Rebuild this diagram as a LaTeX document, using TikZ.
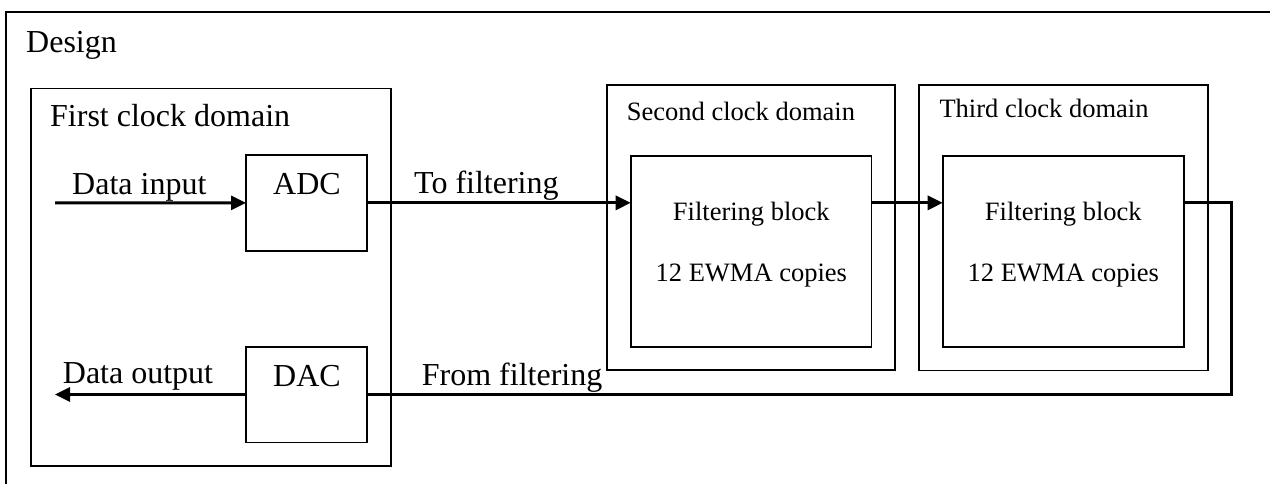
\documentclass[tikz,border=0pt]{standalone}
\usepackage{fontspec}
\setmainfont{Liberation Serif}
\usetikzlibrary{arrows.meta}
\begin{document}
\begin{tikzpicture}[x=1pt,y=-1pt,
  box/.style={draw=black,line width=1.6pt,rectangle,inner sep=0pt,outer sep=0pt,anchor=north west},
  big/.style={font=\fontsize{32}{38}\selectfont,inner sep=0pt},
  small/.style={font=\fontsize{26.5}{32}\selectfont,inner sep=0pt},
  sig/.style={line width=3pt},
  arr/.style={sig,-{Triangle[length=15pt,width=14pt]}}]
\useasboundingbox (0,0) rectangle (1270,483);
\clip (0,0) rectangle (1270,483);
\fill[white] (0,0) rectangle (1270,483);
% boxes
\node[box,minimum width=1294pt,minimum height=508pt] (design) at (6,12) {};
\node[box,minimum width=359.7pt,minimum height=377.7pt] (first) at (31,88.3) {};
\node[box,minimum width=121pt,minimum height=95.7pt] (adc) at (246,155) {};
\node[box,minimum width=121pt,minimum height=95.6pt] (dac) at (246,346.7) {};
\node[box,minimum width=288.3pt,minimum height=285pt] (second) at (606.7,85) {};
\node[box,minimum width=240.6pt,minimum height=191pt] (filta) at (630.7,155.7) {};
\node[box,minimum width=288.7pt,minimum height=285.6pt] (third) at (919,84.7) {};
\node[box,minimum width=241pt,minimum height=191pt] (filtb) at (942.7,155.7) {};
% texts
\node[big,anchor=base west] (tdesign) at (26,52) {Design};
\node[big,anchor=base west] (tfirst) at (50,126) {First clock domain};
\node[big,anchor=base west] (tin) at (72,194) {Data input};
\node[big,anchor=base west] (tout) at (62.7,383) {Data output};
\node[big,anchor=base] (tadc) at (307,194.3) {ADC};
\node[big,anchor=base] (tdac) at (307,386.7) {DAC};
\node[big,anchor=base west] (tto) at (414,193.3) {To filtering};
\node[big,anchor=base west] (tfrom) at (421.7,385) {From filtering};
\node[small,anchor=base west] (tsecond) at (626.7,120) {Second clock domain};
\node[small,anchor=base west] (tthird) at (939.3,117.3) {Third clock domain};
\node[small,anchor=base] (fa1) at (751.3,220.7) {Filtering block};
\node[small,anchor=base] (fa2) at (751.3,281.7) {12 EWMA copies};
\node[small,anchor=base] (fb1) at (1063.3,220.7) {Filtering block};
\node[small,anchor=base] (fb2) at (1063.3,281.7) {12 EWMA copies};
% connectors
\coordinate (in) at (55,202.85);
\coordinate (out) at (55,394.5);
\coordinate (corner) at (1231.7,203.5);
\draw[arr] (in) -- (adc.west);
\draw[arr] (adc.east) -- (adc.east -| filta.west);
\draw[arr] (filta.east |- adc.east) -- (filtb.west |- adc.east);
\draw[sig] (filtb.east |- adc.east) -- (corner |- adc.east) |- (dac.east);
\draw[arr] (dac.west) -- (out);
\end{tikzpicture}
\end{document}
